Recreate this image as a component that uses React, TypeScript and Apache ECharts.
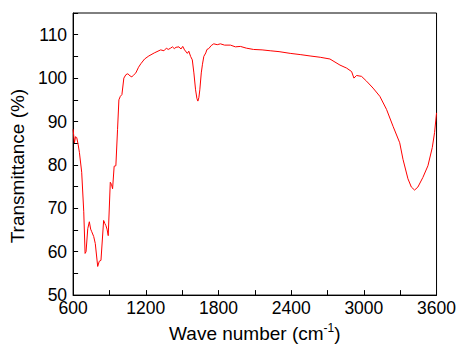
import React, { useEffect, useRef } from "react";
import * as echarts from "echarts";

const waveNumbers: number[] = [
  600, 611, 620, 630, 641, 652, 671, 688, 699, 707, 721, 734, 745, 754, 770, 783,
  803, 816, 830, 852, 862, 871, 880, 890, 907, 917, 926, 939, 953, 967, 978, 990,
  1003, 1019, 1036, 1052, 1070, 1085, 1100, 1118, 1140, 1159, 1190, 1225, 1270,
  1323, 1350, 1370, 1385, 1405, 1420, 1435, 1450, 1474, 1490, 1505, 1520, 1543,
  1555, 1570, 1584, 1597, 1611, 1622, 1630, 1638, 1646, 1658, 1668, 1679, 1695,
  1705, 1720, 1740, 1761, 1790, 1816, 1850, 1899, 1940, 1981, 2030, 2090, 2160,
  2227, 2300, 2392, 2480, 2556, 2640, 2720, 2803, 2858, 2899, 2918, 2940, 2960,
  2981, 3022, 3076, 3132, 3187, 3241, 3296, 3323, 3364, 3392, 3419, 3446, 3487,
  3529, 3565, 3584, 3600,
];

const transmittance: number[] = [
  88.2, 85.1, 86.5, 86.3, 84.8, 82.9, 78.3, 69.2, 59.6, 60, 65.3, 66.9, 65.2, 64.6,
  63.5, 61.9, 56.6, 57.8, 58, 67.2, 66.5, 66, 65.2, 63.7, 76, 75.5, 74.5, 79.7, 79.8,
  88.2, 95, 95.8, 96.2, 100, 100.8, 101, 100.5, 100.3, 100.7, 101.2, 102.5, 103.3,
  104.4, 105.1, 105.8, 106.5, 106.3, 106.9, 106.6, 106.9, 107.2, 106.8, 107.1, 107.2,
  106.7, 107.3, 106.5, 105.7, 106.2, 105, 104.2, 101.2, 97.3, 95.3, 94.7, 95.5, 97.3,
  101.2, 103.2, 105, 105.8, 106.6, 106.8, 107.5, 107.9, 107.7, 107.9, 107.6, 107.6,
  107.2, 107.3, 106.9, 106.6, 106.5, 106.3, 106.1, 105.7, 105.4, 105.1, 104.8, 104.4,
  103, 102.3, 101.5, 100, 100.6, 100.5, 100.4, 99.3, 97.7, 95.8, 92.8, 88.9, 85.1,
  81.3, 76.8, 74.9, 74.2, 74.9, 77.1, 79.8, 84, 87.5, 92,
];

const FONT = "'Liberation Sans', Arial, sans-serif";

export default function App() {
  const ref = useRef<HTMLDivElement>(null);
  useEffect(() => {
    if (!ref.current) return;
    document.body.style.margin = "0";
    document.body.style.overflow = "hidden";
    const chart = echarts.init(ref.current, undefined, { renderer: "svg" });
    const data = waveNumbers.map((w, i) => [w, transmittance[i]]);
    chart.setOption({
      animation: false,
      backgroundColor: "#fff",
      grid: {
        left: 72,
        top: 13,
        right: 22,
        bottom: 52,
        show: true,
        borderColor: "#000",
        borderWidth: 1,
        backgroundColor: "transparent",
      },
      xAxis: {
        type: "value",
        min: 600,
        max: 3600,
        interval: 600,
        name: "Wave number (cm{sup|-1})",
        nameLocation: "middle",
        nameGap: 24,
        nameTextStyle: {
          fontFamily: FONT,
          fontSize: 19,
          color: "#000",
          lineHeight: 22,
          rich: {
            sup: { fontFamily: FONT, fontSize: 12, color: "#000", lineHeight: 22, verticalAlign: "top", padding: [0, 0, 6, 0] },
          },
        },
        axisLine: { show: true, lineStyle: { color: "#000", width: 1 } },
        axisTick: { show: true, inside: true, length: 5, lineStyle: { color: "#000" } },
        minorTick: { show: true, splitNumber: 2, length: 5, lineStyle: { color: "#000" } },
        splitLine: { show: false },
        axisLabel: {
          fontFamily: FONT,
          fontSize: 17.5,
          color: "#000",
          margin: 4,
          formatter: (v: number) => String(v),
        },
      },
      yAxis: {
        type: "value",
        min: 50,
        max: 115,
        interval: 10,
        name: "Transmittance (%)",
        nameLocation: "middle",
        nameGap: 44,
        nameTextStyle: { fontFamily: FONT, fontSize: 19, color: "#000", padding: [0, 24, 0, 0] },
        axisLine: { show: true, lineStyle: { color: "#000", width: 1 } },
        axisTick: { show: true, inside: true, length: 5, lineStyle: { color: "#000" } },
        minorTick: { show: true, splitNumber: 2, length: 5, lineStyle: { color: "#000" } },
        splitLine: { show: false },
        axisLabel: {
          fontFamily: FONT,
          fontSize: 17.5,
          color: "#000",
          margin: 6,
          showMaxLabel: false,
          formatter: (v: number) => String(v),
        },
      },
      series: [
        {
          type: "line",
          data,
          showSymbol: false,
          symbol: "none",
          lineStyle: { color: "#ff0000", width: 1 },
          clip: true,
        },
      ],
    });
    return () => chart.dispose();
  }, []);
  return <div ref={ref} style={{ width: 459, height: 349 }} />;
}
